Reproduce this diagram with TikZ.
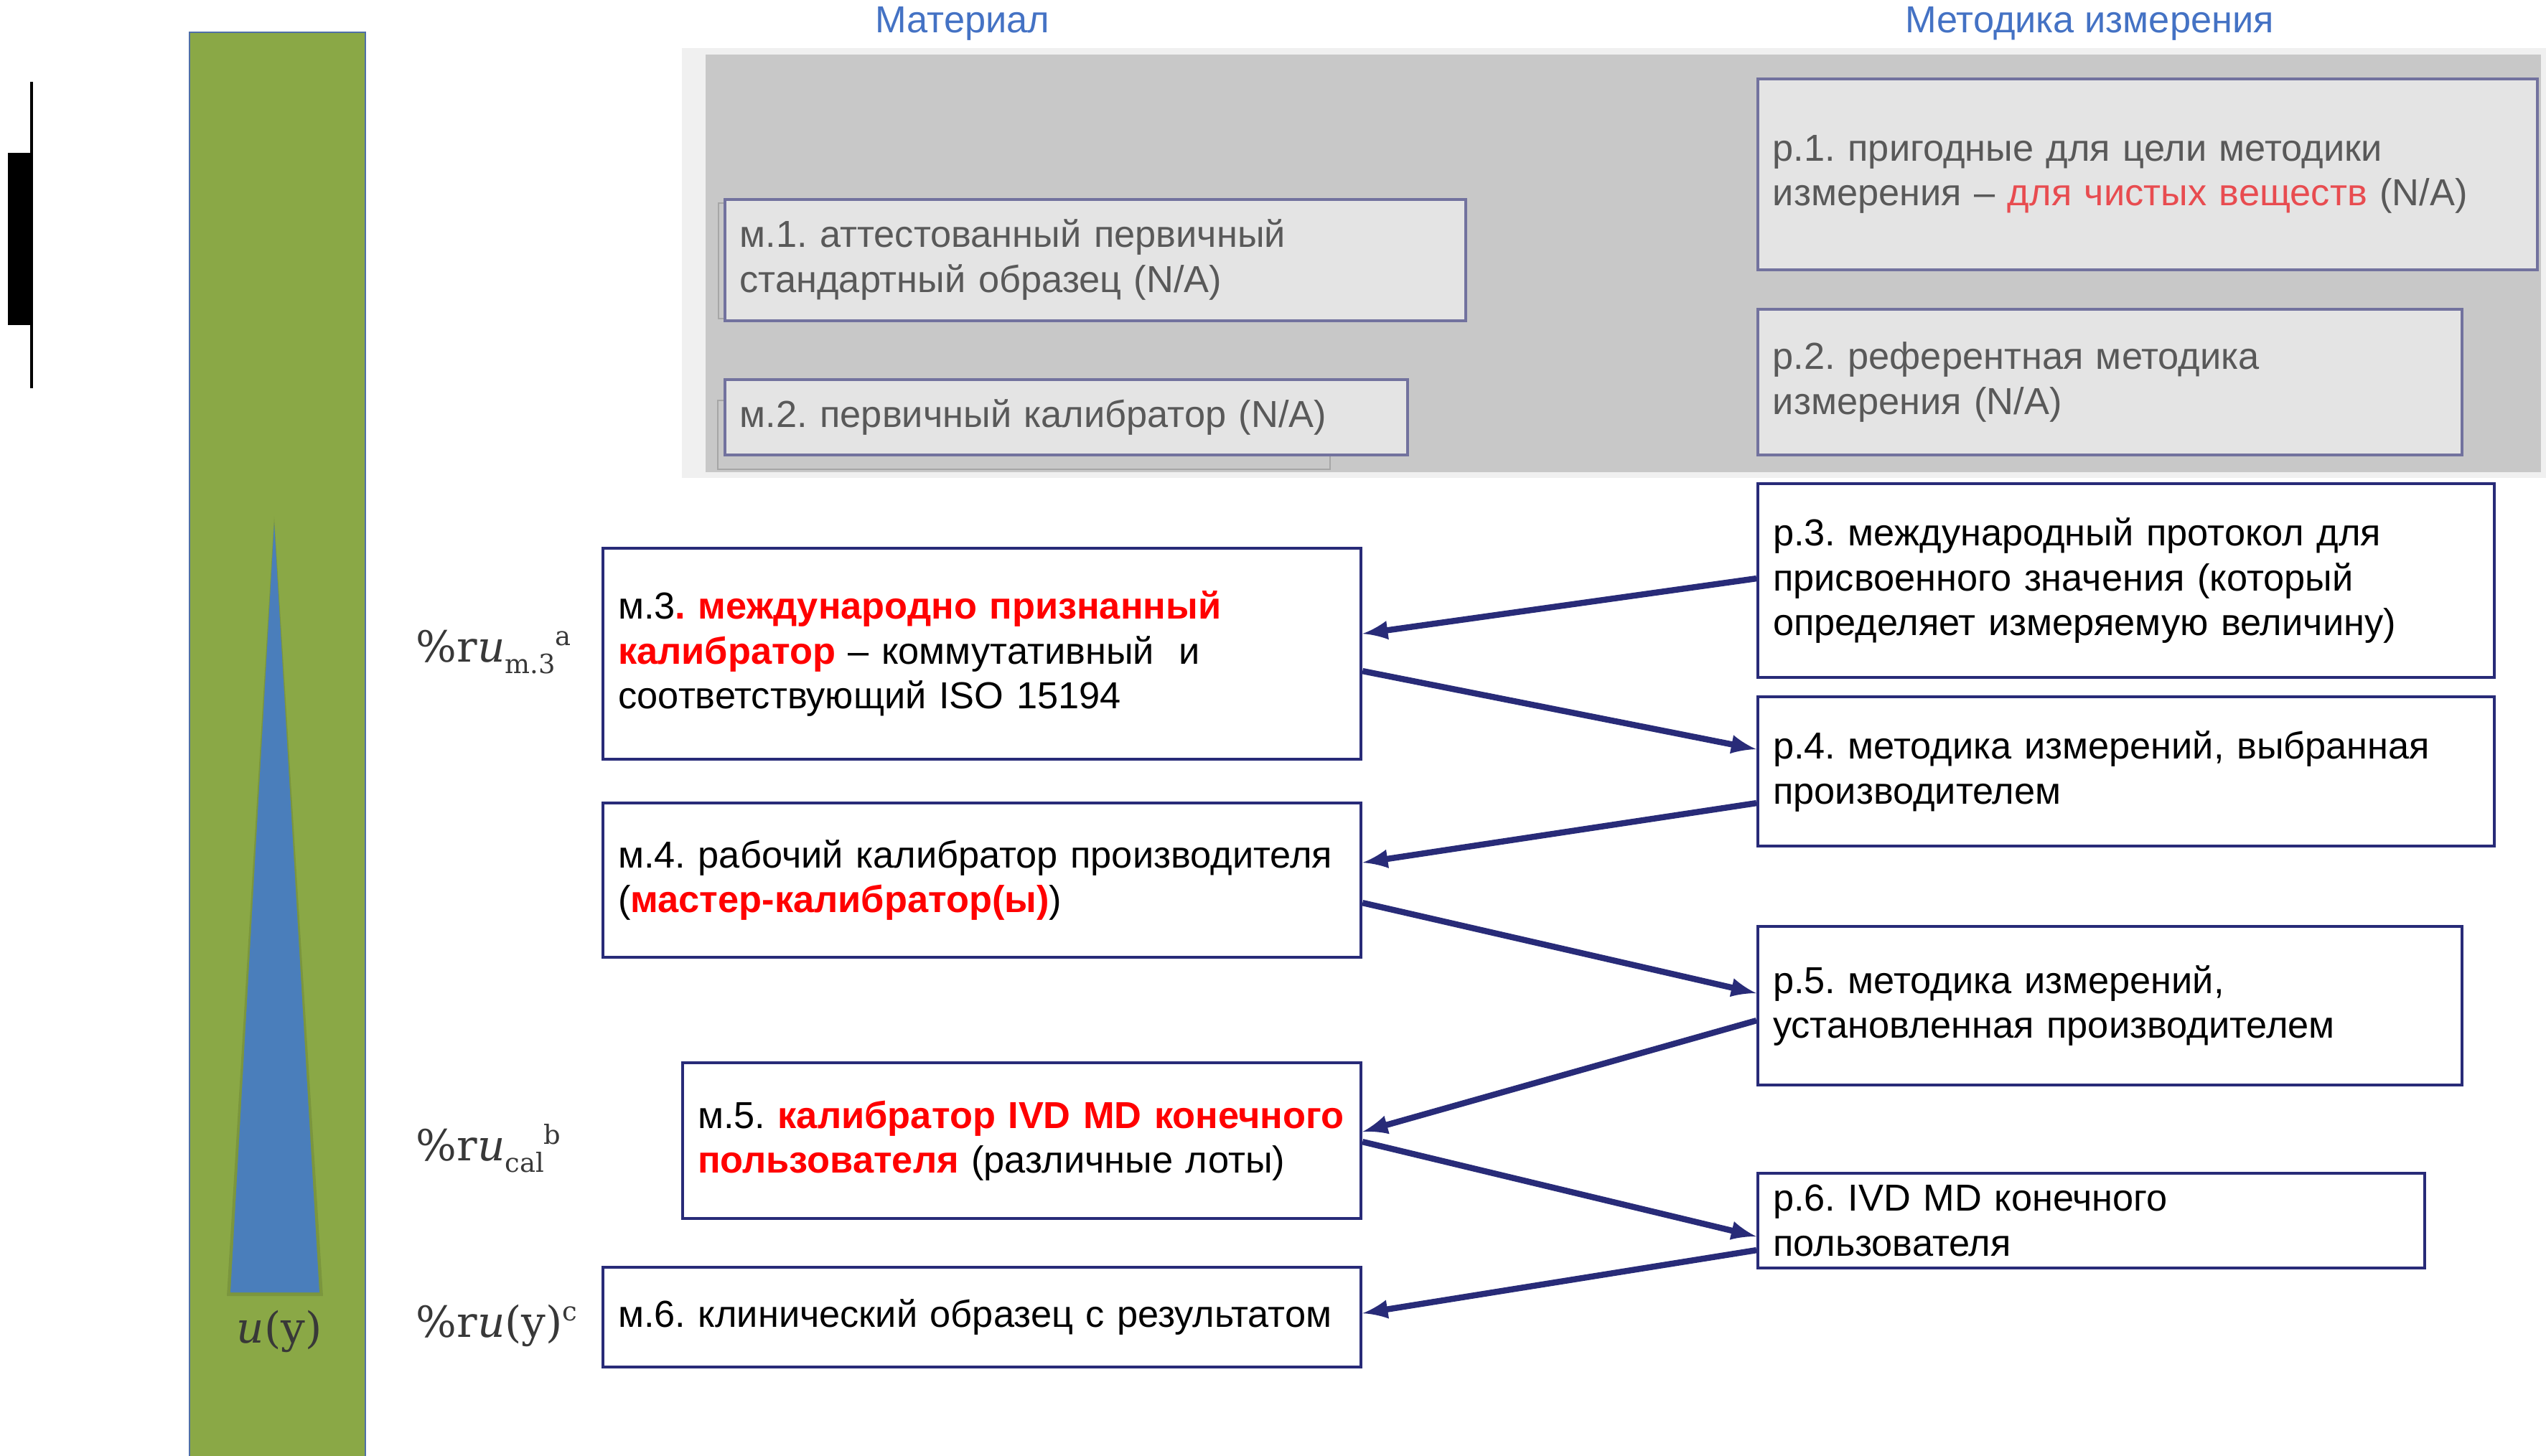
\documentclass[tikz,border=0pt]{standalone}
\usepackage[no-math]{fontspec}
\setmainfont{Liberation Sans}
\newfontfamily\labfont{DejaVu Serif}
\usetikzlibrary{arrows.meta}

\definecolor{navy}{HTML}{282B78}
\definecolor{hired}{HTML}{FF0000}
\definecolor{pinkred}{HTML}{E84C50}
\definecolor{headblue}{HTML}{4472C4}
\definecolor{greenbar}{HTML}{8AA846}
\definecolor{greenedge}{HTML}{4F6FA8}
\definecolor{ublue}{HTML}{4A7EBB}
\definecolor{panelgrey}{HTML}{C8C8C8}
\definecolor{boxfill}{HTML}{E4E4E4}
\definecolor{boxline}{HTML}{72729E}
\definecolor{greytext}{HTML}{595959}
\definecolor{ghostline}{HTML}{A6A6A6}
\definecolor{ulabtext}{HTML}{383838}

\newcommand{\lsub}[1]{\raisebox{-0.28em}{\fontsize{10.5}{11}\selectfont #1}}
\newcommand{\lsup}[1]{\raisebox{0.38em}{\fontsize{10.5}{11}\selectfont #1}}

\tikzset{
  greybox/.style={draw=boxline, fill=boxfill, line width=1pt, text=greytext, anchor=north west,
    align=left, inner xsep=0.21cm, inner ysep=0pt, font=\fontsize{14.9}{17.8}\selectfont},
  whitebox/.style={draw=navy, fill=white, line width=1.2pt, text=black, anchor=north west,
    align=left, inner xsep=0.21cm, inner ysep=0pt, font=\fontsize{14.9}{17.8}\selectfont},
  header/.style={text=headblue, anchor=base, font=\fontsize{14.9}{17.8}\selectfont},
  ulabel/.style={text=ulabtext, anchor=base west, inner sep=0pt, font=\labfont\fontsize{17}{20}\selectfont},
  link/.style={->, >=latex, draw=navy, line width=2.4pt}
}

\begin{document}
\frenchspacing
\begin{tikzpicture}
  \useasboundingbox (0,0) rectangle (35.47,-20.28);

  \fill[black] (0.11,-2.13) rectangle (0.44,-4.53);
  \draw[black, line width=1.2pt] (0.44,-1.14) -- (0.44,-5.41);

  \draw[draw=greenedge, fill=greenbar, line width=0.6pt] (2.64,-0.45) rectangle (5.09,-20.5);
  \fill[black, opacity=0.10] (3.82,-7.20) -- (4.50,-18.06) -- (3.16,-18.06) -- cycle;
  \fill[ublue] (3.82,-7.29) -- (4.45,-18.01) -- (3.21,-18.01) -- cycle;
  \node[ulabel, anchor=base] (uy) at (3.89,-18.71) {\textit{u}(y)};

  \node[ulabel] (rum) at (5.79,-9.22) {\%r\textit{u}\lsub{m.3}\lsup{a}};
  \node[ulabel] (rucal) at (5.79,-16.17) {\%r\textit{u}\lsub{cal}\lsup{b}};
  \node[ulabel] (ruy) at (5.79,-18.63) {\%r\textit{u}(y)\lsup{c}};

  \node[header] (mat) at (13.41,-0.45) {Материал};
  \node[header] (met) at (29.11,-0.45) {Методика измерения};

  \fill[gray!12] (9.50,-0.67) rectangle (35.47,-6.66);
  \fill[panelgrey] (9.83,-0.76) rectangle (35.40,-6.58);
  \draw[ghostline, line width=0.8pt] (10.01,-2.83) rectangle (20.30,-4.44);
  \draw[ghostline, line width=0.8pt] (10.00,-5.58) rectangle (18.53,-6.54);

  \node[greybox, text width=9.90cm, minimum height=1.69cm] (m1) at (10.08,-2.76)
    {м.1. аттестованный первичный\\стандартный образец (N/A)};
  \node[greybox, text width=9.09cm, minimum height=1.05cm] (m2) at (10.08,-5.27)
    {м.2. первичный калибратор (N/A)};
  \node[greybox, text width=10.44cm, minimum height=2.66cm] (p1) at (24.47,-1.08)
    {р.1. пригодные для цели методики\\\mbox{измерения – \textcolor{pinkred}{для чистых веществ} (N/A)}};
  \node[greybox, text width=9.39cm, minimum height=2.03cm] (p2) at (24.47,-4.29)
    {р.2. референтная методика\\измерения (N/A)};

  \node[whitebox, text width=10.14cm, minimum height=2.94cm] (m3) at (8.38,-7.62)
    {м.3\textcolor{hired}{\bfseries. международно признанный}\\
     \textcolor{hired}{\bfseries калибратор} – коммутативный\ \ и\\
     соответствующий ISO 15194};
  \node[whitebox, text width=10.14cm, minimum height=2.15cm] (m4) at (8.38,-11.17)
    {\mbox{м.4. рабочий калибратор производителя}\\(\textcolor{hired}{\bfseries мастер-калибратор(ы)})};
  \node[whitebox, text width=9.03cm, minimum height=2.17cm] (m5) at (9.49,-14.79)
    {\mbox{м.5. \textcolor{hired}{\bfseries калибратор IVD MD конечного}}\\
     \textcolor{hired}{\bfseries пользователя} (различные лоты)};
  \node[whitebox, text width=10.14cm, minimum height=1.39cm] (m6) at (8.38,-17.64)
    {м.6. клинический образец с результатом};

  \node[whitebox, text width=9.84cm, minimum height=2.70cm] (p3) at (24.47,-6.72)
    {р.3. международный протокол для\\присвоенного значения (который\\\mbox{определяет измеряемую величину)}};
  \node[whitebox, text width=9.84cm, minimum height=2.08cm] (p4) at (24.47,-9.69)
    {\mbox{р.4. методика измерений, выбранная}\\производителем};
  \node[whitebox, text width=9.39cm, minimum height=2.21cm] (p5) at (24.47,-12.89)
    {р.5. методика измерений,\\установленная производителем};
  \node[whitebox, text width=8.87cm, minimum height=1.32cm] (p6) at (24.47,-16.33)
    {р.6. IVD MD конечного\\пользователя};

  \foreach \a/\sa/\b/\sb in {p3.west/0.03/m3.east/0.28, m3.east/-0.24/p4.west/0.31,
      p4.west/-0.44/m4.east/0.245, m4.east/-0.315/p5.west/0.175,
      p5.west/-0.205/m5.east/0.125, m5.east/-0.015/p6.west/-0.22,
      p6.west/-0.41/m6.east/0.055}
  {
    \draw[link] ([yshift=\sa cm]\a) -- ([yshift=\sb cm]\b);
  }
\end{tikzpicture}
\end{document}
